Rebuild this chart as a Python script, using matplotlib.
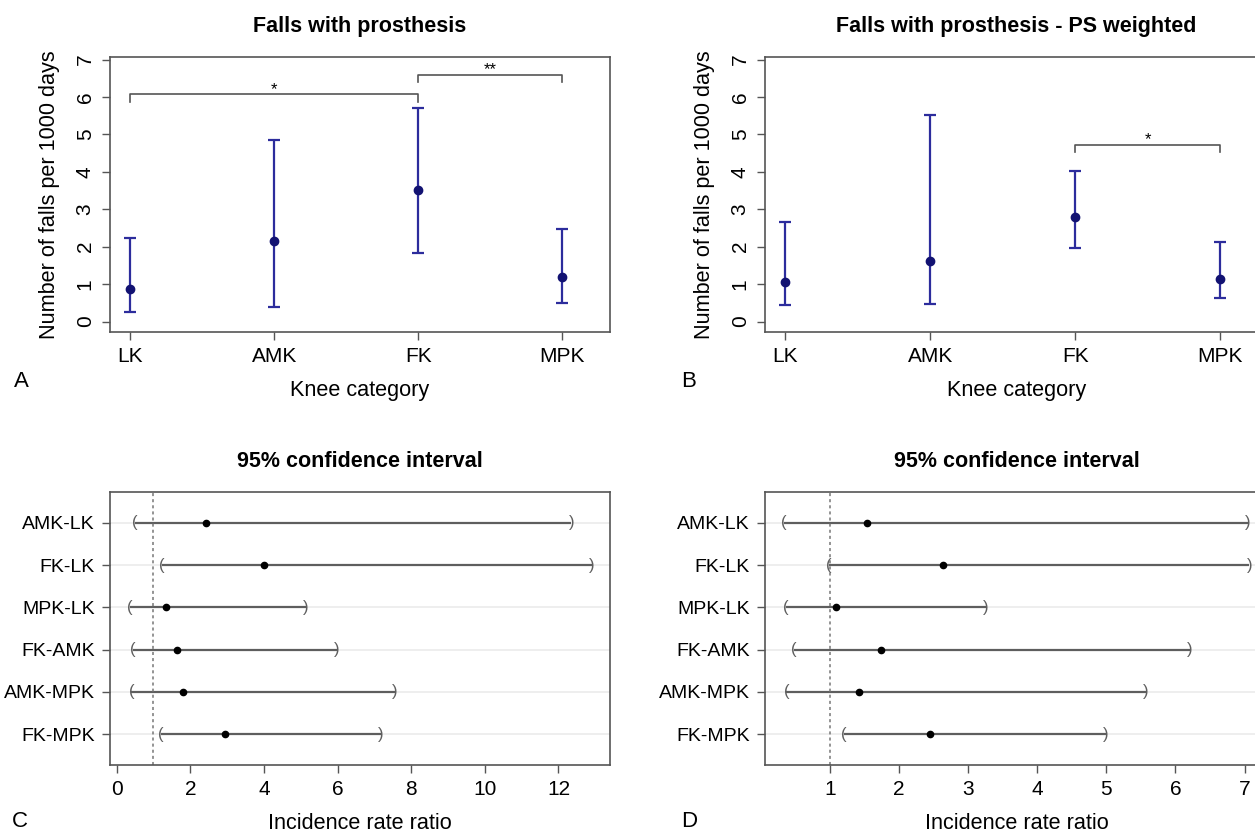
import numpy as np
import matplotlib.pyplot as plt

plt.rcParams["font.family"] = ["Liberation Sans", "DejaVu Sans"]

knee = ["LK", "AMK", "FK", "MPK"]

# falls per 1000 days, crude
rate_a = [0.88, 2.14, 3.51, 1.19]
low_a = [0.25, 0.38, 1.83, 0.49]
high_a = [2.23, 4.85, 5.70, 2.48]

# falls per 1000 days, PS weighted
rate_b = [1.05, 1.62, 2.80, 1.14]
low_b = [0.43, 0.47, 1.97, 0.63]
high_b = [2.67, 5.51, 4.02, 2.12]

pairs = ["AMK-LK", "FK-LK", "MPK-LK", "FK-AMK", "AMK-MPK", "FK-MPK"]

# incidence rate ratios, crude
irr_c = [2.42, 3.99, 1.34, 1.64, 1.80, 2.95]
irr_c_low = [0.49, 1.22, 0.35, 0.44, 0.40, 1.20]
irr_c_high = [12.35, 12.90, 5.13, 5.98, 7.56, 7.17]

# incidence rate ratios, PS weighted
irr_d = [1.53, 2.64, 1.09, 1.74, 1.42, 2.45]
irr_d_low = [0.33, 0.98, 0.36, 0.48, 0.37, 1.20]
irr_d_high = [7.05, 7.07, 3.26, 6.21, 5.57, 4.99]

# significance brackets: from, to, height, label
brackets_a = [(1, 3, 6.08, "*"), (3, 4, 6.60, "**")]
brackets_b = [(3, 4, 4.72, "*")]

BLUE = "#2c2c9c"
DOT = "#121272"
GREY = "#555555"
W, H = 1255, 833


def box(l, t, r, b):
    # pixel box -> figure fraction
    return [l / W, 1 - b / H, (r - l) / W, (b - t) / H]


def style(ax):
    for s in ax.spines.values():
        s.set_color(GREY)
        s.set_linewidth(1.2)
    ax.tick_params(direction="out", length=6, width=1, color=GREY, labelsize=15, pad=5)


def rate_panel(ax, rate, low, high, brackets, title):
    x = np.arange(1, len(knee) + 1)
    rate = np.array(rate)
    err = [rate - np.array(low), np.array(high) - rate]
    ax.errorbar(x, rate, yerr=err, fmt="o", color=BLUE, mfc=DOT, mec=DOT, ms=6,
                capsize=4, elinewidth=1.6, capthick=1.6)
    for a, b, h, lab in brackets:
        ax.plot([a, a, b, b], [h - 0.2, h, h, h - 0.2], color=GREY, lw=1.2)
        ax.text((a + b) / 2, h + 0.13, lab, ha="center", va="center", fontsize=12)
    ax.set_xlim(0.86, 4.33)
    ax.set_ylim(-0.28, 7.07)
    ax.set_xticks(x, knee)
    ax.set_yticks(range(8))
    style(ax)
    ax.tick_params(axis="y", labelrotation=90)
    for t in ax.get_yticklabels():
        t.set_va("center")
    ax.set_title(title, fontsize=15.5, fontweight="bold", pad=18)
    ax.set_xlabel("Knee category", fontsize=15.6, labelpad=10)
    ax.set_ylabel("Number of falls per 1000 days", fontsize=15.6, labelpad=11)


def irr_panel(ax, est, low, high, xlim, xticks):
    y = np.arange(len(pairs), 0, -1)
    ax.yaxis.grid(True, color="#ebebeb", lw=1.2)
    ax.set_axisbelow(True)
    ax.hlines(y, low, high, color="#5e5e5e", lw=1.6)
    for lo, hi, yy in zip(low, high, y):
        ax.text(lo, yy, "(", ha="center", va="center", fontsize=12, color="#5e5e5e")
        ax.text(hi, yy, ")", ha="center", va="center", fontsize=12, color="#5e5e5e")
    ax.plot(est, y, "o", color="black", ms=4.5)
    ax.axvline(1, color="#777777", ls=(0, (2, 2)), lw=1.1)
    ax.set_ylim(0.27, 6.73)
    ax.set_xlim(*xlim)
    ax.set_xticks(xticks)
    ax.set_yticks(y, pairs)
    style(ax)
    ax.tick_params(axis="y", labelsize=14)
    ax.set_title("95% confidence interval", fontsize=15.5, fontweight="bold", pad=18)
    ax.set_xlabel("Incidence rate ratio", fontsize=15.6, labelpad=10)


fig = plt.figure(figsize=(W / 100, H / 100), dpi=100)

ax_a = fig.add_axes(box(110, 57, 610, 332))
rate_panel(ax_a, rate_a, low_a, high_a, brackets_a, "Falls with prosthesis")

ax_b = fig.add_axes(box(765, 57, 1268, 332))
rate_panel(ax_b, rate_b, low_b, high_b, brackets_b, "Falls with prosthesis - PS weighted")

ax_c = fig.add_axes(box(110, 492, 610, 765))
irr_panel(ax_c, irr_c, irr_c_low, irr_c_high, (-0.18, 13.4), range(0, 13, 2))

ax_d = fig.add_axes(box(765, 492, 1268, 765))
irr_panel(ax_d, irr_d, irr_d_low, irr_d_high, (0.06, 7.34), range(1, 8))

for lab, px, py in [("A", 14, 387), ("B", 681, 387), ("C", 12, 827), ("D", 681, 827)]:
    fig.text(px / W, 1 - py / H, lab, fontsize=16, ha="left", va="baseline")

fig.savefig("out.png", dpi=100)
